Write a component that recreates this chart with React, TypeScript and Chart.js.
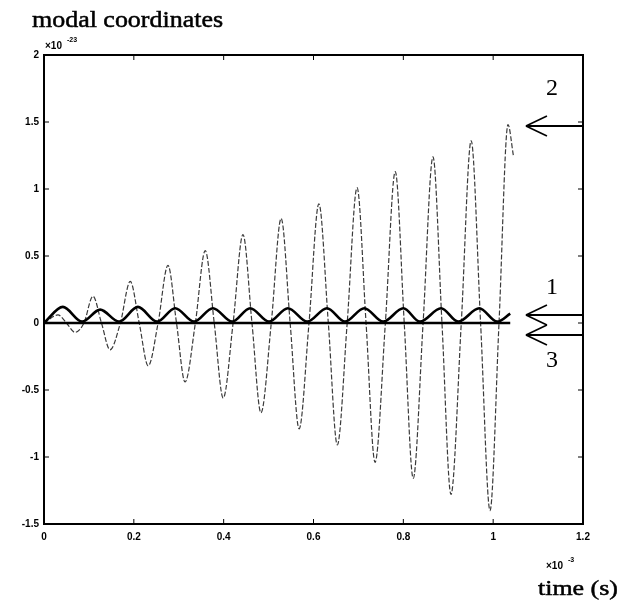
import { useEffect, useRef } from "react";
import { Chart, registerables } from "chart.js";

Chart.register(...registerables);

// x in units of 1e-3 s, y in units of 1e-23
const xTicks = [0, 0.2, 0.4, 0.6, 0.8, 1, 1.2];
const yTicks = [-1.5, -1, -0.5, 0, 0.5, 1, 1.5, 2];

// mode 1: thick small oscillation above zero
const mode1Time = [0, 0.042, 0.085, 0.125, 0.167, 0.209, 0.252, 0.292, 0.334, 0.376, 0.419, 0.459, 0.501, 0.543, 0.586, 0.63, 0.67, 0.713, 0.755, 0.8, 0.837, 0.884, 0.922, 0.969, 1.009, 1.038];
const mode1Value = [0, 0.12, 0.01, 0.1, 0.01, 0.12, 0.01, 0.11, 0.01, 0.11, 0.01, 0.11, 0.01, 0.11, 0.01, 0.11, 0.01, 0.11, 0.01, 0.11, 0.01, 0.11, 0.01, 0.11, 0.01, 0.07];

// mode 2: growing oscillation
const mode2Time = [0, 0.031, 0.05, 0.069, 0.089, 0.109, 0.128, 0.147, 0.17, 0.192, 0.212, 0.232, 0.254, 0.276, 0.295, 0.314, 0.337, 0.359, 0.379, 0.399, 0.421, 0.443, 0.463, 0.483, 0.506, 0.528, 0.548, 0.568, 0.59, 0.612, 0.633, 0.653, 0.675, 0.697, 0.717, 0.737, 0.76, 0.782, 0.802, 0.822, 0.844, 0.866, 0.886, 0.906, 0.929, 0.951, 0.972, 0.993, 1.013, 1.033, 1.045];
const mode2Value = [0, 0.06, 0, -0.07, 0, 0.2, 0, -0.2, 0, 0.31, 0, -0.32, 0, 0.43, 0, -0.44, 0, 0.54, 0, -0.56, 0, 0.66, 0, -0.67, 0, 0.78, 0, -0.79, 0, 0.89, 0, -0.91, 0, 1.01, 0, -1.04, 0, 1.13, 0, -1.16, 0, 1.24, 0, -1.28, 0, 1.36, 0, -1.4, 0, 1.48, 1.25];

// mode 3: flat at zero
const mode3Time = [0, 1.038];
const mode3Value = [0, 0];

// arrow annotations
const arrowLabels = ["1", "2", "3"];
const arrowLevels = [0.06, 1.47, -0.09];
const arrowLabelLevels = [0.26, 1.75, -0.28];
const arrowTipTime = 1.073;
const arrowLabelTime = 1.131;

const toPoints = (xs: number[], ys: number[]) => xs.map((x, i) => ({ x, y: ys[i] }));
const fmt = (v: number) => String(Math.round(v * 10) / 10);

function stretchText(ctx: CanvasRenderingContext2D, text: string, x: number, y: number, font: string, width: number) {
  ctx.save();
  ctx.font = font;
  const w = ctx.measureText(text).width;
  ctx.translate(x, y);
  ctx.scale(width / w, 1);
  ctx.textAlign = "left";
  ctx.textBaseline = "alphabetic";
  ctx.lineWidth = 0.5;
  ctx.strokeStyle = "#000";
  ctx.fillText(text, 0, 0);
  ctx.strokeText(text, 0, 0);
  ctx.restore();
}

const decorPlugin = {
  id: "decor",
  afterDraw(chart: any) {
    const { ctx, chartArea: a, scales } = chart;
    const xs = scales.x;
    const ys = scales.y;
    ctx.save();
    ctx.strokeStyle = "#000";
    ctx.fillStyle = "#000";
    const line = (x1: number, y1: number, x2: number, y2: number) => {
      ctx.beginPath();
      ctx.moveTo(x1, y1);
      ctx.lineTo(x2, y2);
      ctx.stroke();
    };
    // inward ticks
    ctx.lineWidth = 1;
    xTicks.forEach((v) => {
      const px = xs.getPixelForValue(v);
      line(px, a.bottom, px, a.bottom - 5);
      line(px, a.top, px, a.top + 5);
    });
    yTicks.forEach((v) => {
      const py = ys.getPixelForValue(v);
      line(a.left, py, a.left + 5, py);
      line(a.right, py, a.right - 5, py);
    });
    // frame
    ctx.lineWidth = 2;
    ctx.strokeRect(a.left, a.top, a.right - a.left, a.bottom - a.top);

    // arrows
    const tipX = xs.getPixelForValue(arrowTipTime);
    ctx.lineWidth = 2;
    arrowLevels.forEach((lv, i) => {
      const py = ys.getPixelForValue(lv);
      line(tipX, py, a.right, py);
      ctx.lineWidth = 1.6;
      line(tipX, py, tipX + 21, py - 10);
      line(tipX, py, tipX + 21, py + 10);
      ctx.lineWidth = 2;
      const ly = ys.getPixelForValue(arrowLabelLevels[i]);
      ctx.font = '24px "Liberation Serif", "Times New Roman", serif';
      ctx.textAlign = "center";
      ctx.textBaseline = "middle";
      ctx.fillText(arrowLabels[i], xs.getPixelForValue(arrowLabelTime), ly);
    });

    // titles
    stretchText(ctx, "modal coordinates", 32, 27, '23px "Liberation Serif", "Times New Roman", serif', 191);
    stretchText(ctx, "time (s)", 538, 595, '22px "Liberation Serif", "Times New Roman", serif', 80);

    // exponents
    ctx.textAlign = "left";
    ctx.textBaseline = "alphabetic";
    ctx.font = 'bold 10px "Liberation Sans", Arial, sans-serif';
    ctx.fillText("\u00d710", a.left + 1, a.top - 6);
    ctx.font = 'bold 7px "Liberation Sans", Arial, sans-serif';
    ctx.fillText("-23", a.left + 23, a.top - 13);
    ctx.font = 'bold 10px "Liberation Sans", Arial, sans-serif';
    ctx.fillText("\u00d710", a.right - 37, a.bottom + 45);
    ctx.font = 'bold 7px "Liberation Sans", Arial, sans-serif';
    ctx.fillText("-3", a.right - 15, a.bottom + 38);
    ctx.restore();
  },
};

export default function App() {
  const ref = useRef<HTMLCanvasElement | null>(null);
  useEffect(() => {
    document.body.style.margin = "0";
    const canvas = ref.current;
    if (!canvas) return;
    const tickFont = { family: '"Liberation Sans", Arial, sans-serif', size: 10, weight: "bold" as const };
    const chart = new Chart(canvas, {
      type: "line",
      data: {
        datasets: [
          {
            label: "1",
            data: toPoints(mode1Time, mode1Value),
            borderColor: "#000",
            borderWidth: 2.6,
            pointRadius: 0,
            cubicInterpolationMode: "monotone",
            fill: false,
          },
          {
            label: "3",
            data: toPoints(mode3Time, mode3Value),
            borderColor: "#000",
            borderWidth: 2.6,
            pointRadius: 0,
            tension: 0,
            fill: false,
          },
          {
            label: "2",
            data: toPoints(mode2Time, mode2Value),
            borderColor: "#3a3a3a",
            borderWidth: 1.2,
            borderDash: [5, 2],
            pointRadius: 0,
            cubicInterpolationMode: "monotone",
            fill: false,
          },
        ],
      },
      options: {
        animation: false,
        responsive: false,
        devicePixelRatio: 1,
        parsing: false as any,
        layout: { padding: { left: 0, right: 49, top: 55, bottom: 52 } },
        plugins: { legend: { display: false }, tooltip: { enabled: false }, title: { display: false } },
        scales: {
          x: {
            type: "linear",
            min: 0,
            max: 1.2,
            afterBuildTicks: (s: any) => {
              s.ticks = xTicks.map((v) => ({ value: v }));
            },
            afterFit: (s: any) => {
              s.height = 24;
            },
            grid: { display: false, drawTicks: false },
            border: { display: false },
            ticks: { color: "#000", font: tickFont, padding: 7, maxRotation: 0, callback: (v: any) => fmt(Number(v)) },
          },
          y: {
            type: "linear",
            min: -1.5,
            max: 2,
            afterBuildTicks: (s: any) => {
              s.ticks = yTicks.map((v) => ({ value: v }));
            },
            afterFit: (s: any) => {
              s.width = 44;
            },
            grid: { display: false, drawTicks: false },
            border: { display: false },
            ticks: { color: "#000", font: tickFont, padding: 5, callback: (v: any) => fmt(Number(v)) },
          },
        },
      },
      plugins: [decorPlugin],
    });
    return () => chart.destroy();
  }, []);
  return (
    <div style={{ width: 632, height: 600, background: "#fff" }}>
      <canvas ref={ref} width={632} height={600} style={{ display: "block", width: 632, height: 600 }} />
    </div>
  );
}
